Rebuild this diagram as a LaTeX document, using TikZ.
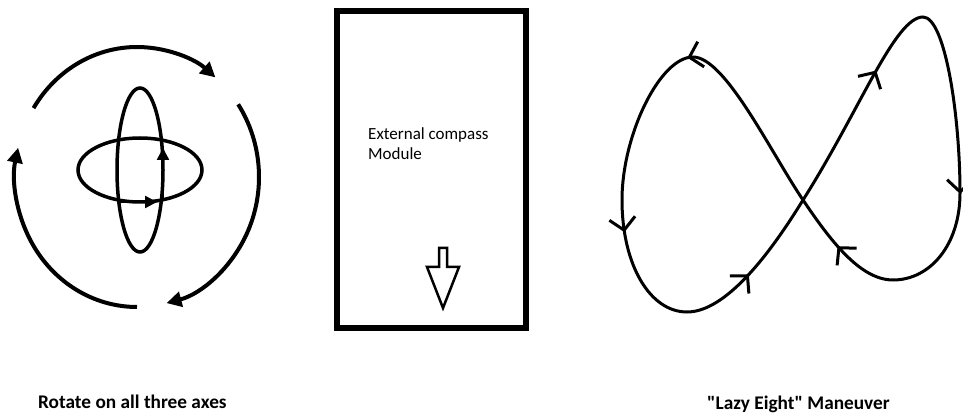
\documentclass[tikz,border=0pt]{standalone}
\usepackage{fontspec}
\setmainfont{Carlito}[Ligatures=TeXOff]
\usetikzlibrary{arrows.meta, decorations.markings}

\begin{document}
\begin{tikzpicture}[x=1pt, y=1pt,
    turn/.style={line width=4pt, -{Triangle[length=15pt,width=15pt]}},
    axis/.style={line width=2.5pt, -{Triangle[length=12pt,width=12pt]}},
    ring/.style={line width=3.5pt},
    eightbarb/.tip={Straight Barb[length=12pt,width=26pt]},
    caption/.style={font=\fontsize{19.3}{22}\selectfont\bfseries, inner sep=0pt, anchor=base west}]
    \useasboundingbox (0,0) rectangle (963,415);

    % rotate on all three axes
    \coordinate (O) at (137,238);
    \draw[turn] (O) ++(148:122 and 130) arc[start angle=148, end angle=50, x radius=122, y radius=130];
    \draw[turn] (O) ++(34:122 and 130) arc[start angle=34, end angle=-76, x radius=122, y radius=130];
    \draw[turn] (O) ++(270:122 and 130) arc[start angle=270, end angle=167, x radius=122, y radius=130];
    \draw[ring] (140,245) ellipse[x radius=23, y radius=82];
    \draw[ring] (140,245) ellipse[x radius=62, y radius=32];
    \draw[axis] (118,213) -- (157,213);
    \draw[axis] (163,215) -- (163,267);
    \node[caption] (rotate) at (38,7) {Rotate on all three axes};

    % compass module
    \draw[line width=6pt] (337,87) rectangle (526,403.5);
    \node[font=\fontsize{17}{20}\selectfont, align=left, inner sep=0pt, anchor=north west] (module) at (368,287.5) {External compass\\Module};
    \draw[line width=2.5pt, line join=miter] (439,167) -- (447,167) -- (447,148) -- (459,148)
        -- (443,107) -- (427,148) -- (439,148) -- cycle;

    % lazy eight
    \coordinate (X) at (803,215);
    \draw[line width=3pt, postaction={decorate}, decoration={markings,
        mark=at position 0.113 with {\arrow{eightbarb}},
        mark=at position 0.31 with {\arrow{eightbarb}},
        mark=at position 0.453 with {\arrow{eightbarb}},
        mark=at position 0.641 with {\arrow{eightbarb}},
        mark=at position 0.79 with {\arrow{eightbarb}},
        mark=at position 0.93 with {\arrow{eightbarb}}}]
        (X) .. controls (860,305) and (895,398) .. (923,398)
        .. controls (945,398) and (960,300) .. (960,222)
        .. controls (960,170) and (930,135) .. (893,135)
        .. controls (860,135) and (830,175) .. (X)
        .. controls (770,264) and (725,358) .. (693,358)
        .. controls (660,358) and (622,280) .. (622,215)
        .. controls (622,150) and (650,103) .. (687,103)
        .. controls (720,103) and (760,145) .. (X);
    \node[caption] (eight) at (707,6) {"Lazy Eight" Maneuver};
\end{tikzpicture}
\end{document}
